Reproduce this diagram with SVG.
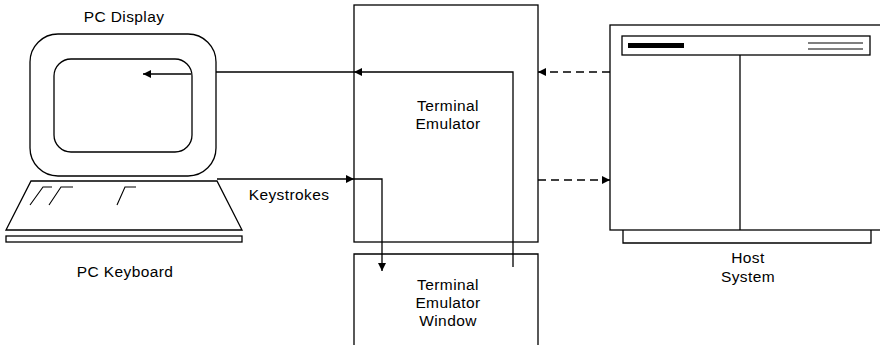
<svg xmlns="http://www.w3.org/2000/svg" width="880" height="345" viewBox="0 0 880 345">
  <style>
    .ln { fill: none; stroke: #000; stroke-width: 1.3; }
    .thin { fill: none; stroke: #000; stroke-width: 1.1; }
    .dash { fill: none; stroke: #000; stroke-width: 1.3; stroke-dasharray: 8 5; }
    .lbl { font-family: "Liberation Sans", Arial, sans-serif; font-size: 15.5px; letter-spacing: 0.4px; fill: #000; text-anchor: middle; }
  </style>
  <defs>
    <marker id="ah" viewBox="0 0 10 10" refX="10" refY="5" markerWidth="10" markerHeight="8" markerUnits="userSpaceOnUse" orient="auto">
      <path d="M0,0 L10,5 L0,10 z" fill="#000"/>
    </marker>
  </defs>
  <rect width="880" height="345" fill="#fff"/>

  <!-- PC display -->
  <g id="pc-display">
    <text class="lbl" x="124" y="22">PC  Display</text>
    <rect class="ln" x="30" y="34" width="186" height="142" rx="28" ry="28"/>
    <rect class="ln" x="54" y="59" width="138" height="93" rx="17" ry="17"/>
  </g>

  <!-- PC keyboard -->
  <g id="pc-keyboard">
    <path class="ln" d="M31,181 L217,181 L242,230 L6,230 Z"/>
    <rect class="ln" x="6" y="236" width="236" height="6"/>
    <path class="thin" d="M30,205 L43,187 L52,187 M49,205 L61,187 L73,187 M117,205 L125,187 L136,187"/>
    <text class="lbl" x="125" y="277">PC  Keyboard</text>
  </g>

  <!-- Terminal emulator -->
  <g id="terminal-emulator">
    <rect class="ln" x="354" y="5" width="184" height="237"/>
    <text class="lbl" x="448" y="111">Terminal</text>
    <text class="lbl" x="448" y="129">Emulator</text>
  </g>

  <!-- Terminal emulator window -->
  <g id="terminal-emulator-window">
    <path class="ln" d="M354,350 L354,254 L538,254 L538,350"/>
    <text class="lbl" x="448" y="290">Terminal</text>
    <text class="lbl" x="448" y="308">Emulator</text>
    <text class="lbl" x="448" y="326">Window</text>
  </g>

  <!-- Host system -->
  <g id="host-system">
    <rect class="ln" x="610" y="25" width="280" height="205"/>
    <path class="ln" d="M623,230 L623,243 L871,243 L871,230"/>
    <rect class="ln" x="622" y="36" width="248" height="19"/>
    <rect x="628" y="43" width="56" height="5" fill="#000"/>
    <path class="thin" d="M808,43 L863,43 M808,49 L863,49"/>
    <line class="ln" x1="740" y1="55" x2="740" y2="230"/>
    <text class="lbl" x="748" y="263">Host</text>
    <text class="lbl" x="748" y="282">System</text>
  </g>

  <!-- Connectors -->
  <g id="connectors">
    <!-- window output to display -->
    <path class="ln" d="M513,267 L513,72 L354,72" marker-end="url(#ah)"/>
    <line class="ln" x1="354" y1="72" x2="216" y2="72"/>
    <line class="ln" x1="191" y1="74" x2="143" y2="74" marker-end="url(#ah)"/>
    <!-- keystrokes -->
    <line class="ln" x1="217" y1="179" x2="354" y2="179" marker-end="url(#ah)"/>
    <path class="ln" d="M354,179 L382,179 L382,271" marker-end="url(#ah)"/>
    <text class="lbl" x="289" y="200">Keystrokes</text>
    <!-- host link -->
    <line class="dash" x1="610" y1="72" x2="538" y2="72" marker-end="url(#ah)"/>
    <line class="dash" x1="538" y1="180" x2="610" y2="180" marker-end="url(#ah)"/>
  </g>
</svg>
